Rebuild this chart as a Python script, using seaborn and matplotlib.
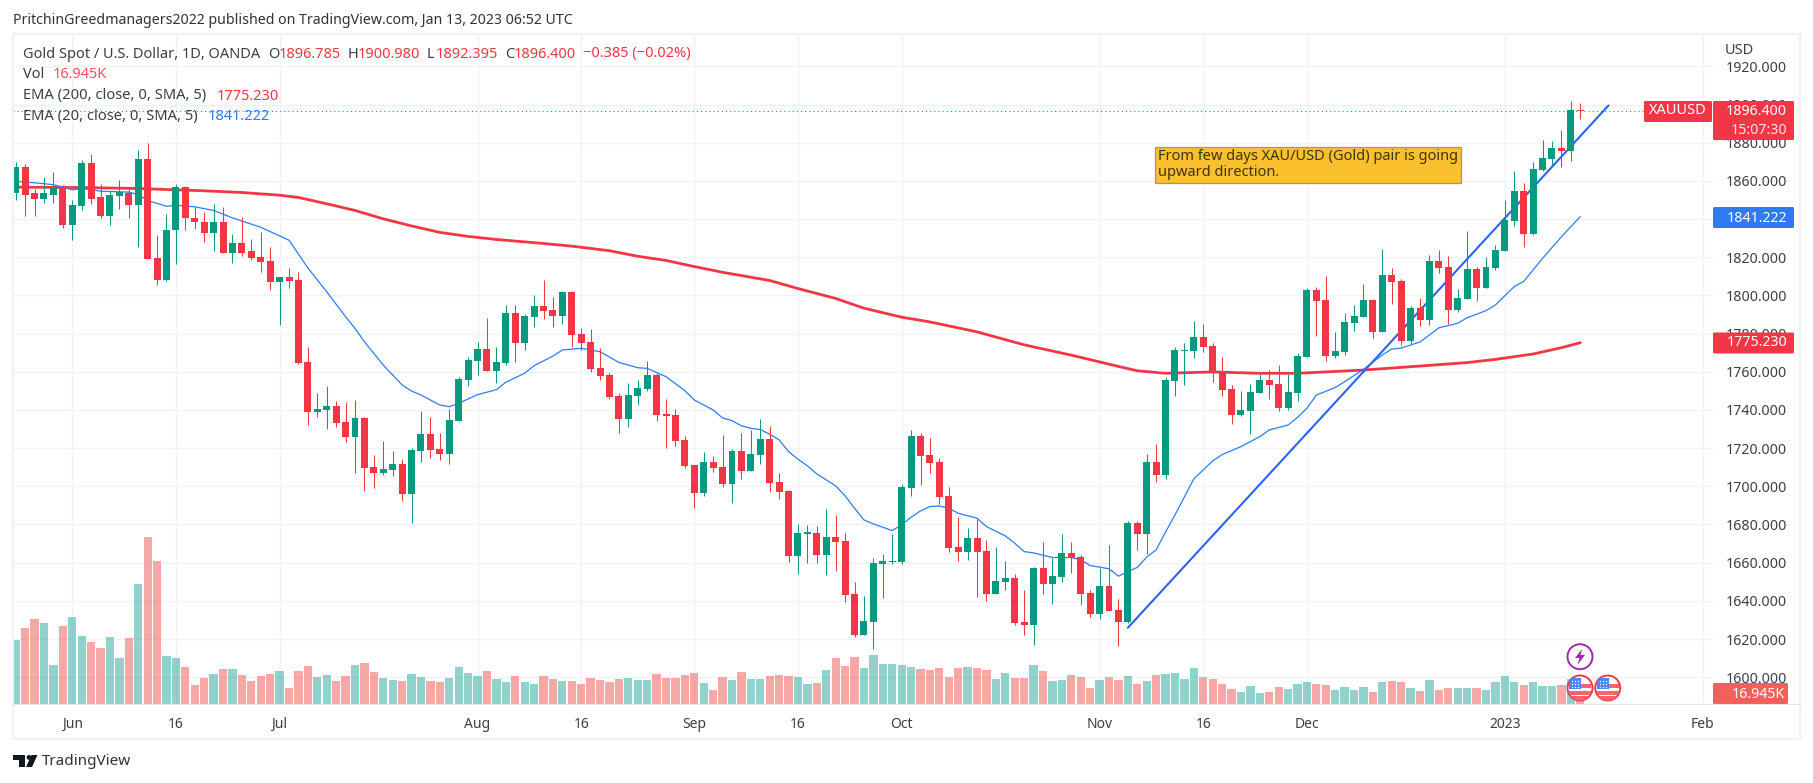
import numpy as np
import pandas as pd
import matplotlib.pyplot as plt
from matplotlib.patches import Rectangle, Circle, Polygon, FancyBboxPatch
import seaborn as sns

# OHLC, one value per daily candle
opens = [1853.5,1867,1853.4,1850.7,1852.8,1856.9,1837.1,1846.7,1869.1,1851.3,
         1841.8,1852.3,1853.7,1847.6,1871.7,1819.8,1808.3,1834,1857,1840.8,
         1838.7,1832.9,1838.2,1822.4,1827.7,1823,1820.3,1818.2,1807,1809.6,
         1808,1765.1,1738.9,1740,1742.1,1733.7,1725.8,1735.8,1710.1,1707,
         1708.6,1711.7,1696,1718.5,1727.4,1719.6,1716.9,1734.2,1755.7,1765.6,
         1771.9,1760.4,1764.6,1790.8,1775,1788.7,1794.4,1792.3,1789.2,1801.7,
         1779.8,1775.6,1762,1758.3,1747.3,1735.3,1747.3,1751,1758.3,1737.9,
         1737.4,1724.3,1711.2,1696.5,1712.8,1710.2,1701.3,1718.5,1708.1,1716.4,
         1724.8,1702.3,1697.6,1663.6,1675.1,1675.6,1664.1,1673.5,1671.4,1643.7,
         1622.2,1629,1659.4,1660.4,1660.4,1699.2,1726.4,1716.4,1712.8,1695,
         1668.3,1665.7,1673,1666.2,1643.7,1650,1652.1,1629,1627.4,1657.3,
         1648.9,1652.6,1665.1,1663,1644.2,1633.2,1647.9,1635.3,1629,1680.8,
         1675.1,1712.8,1706,1755.2,1770.9,1770.9,1778.2,1773.5,1760.4,1751,
         1737.4,1739.5,1748.9,1755.7,1753.6,1741,1748.9,1767.7,1802.8,1797.6,
         1768.3,1770.3,1785.5,1788.7,1797.6,1780.8,1810.7,1807.5,1776.1,1793.4,
         1787.1,1818,1814.8,1792.3,1798.1,1813.8,1803.9,1814.3,1823.2,1838.9,
         1854.6,1832.1,1865.6,1871.4,1877.1,1875.6,1896.785]
highs = [1870,1868.6,1855.5,1862.1,1864.4,1857.6,1850.2,1870.7,1874.3,1858.1,
         1854.6,1860.2,1855.5,1876.4,1879.6,1831.9,1842.4,1858.1,1857.5,1846.5,
         1843.9,1848.1,1846.5,1832.4,1841.3,1829.8,1833.4,1825.6,1809.9,1814.3,
         1812.2,1773,1748.9,1752.5,1744.7,1744.2,1745.2,1736.3,1716.4,1723.7,
         1718.5,1714.3,1720.1,1739.4,1736.3,1727.9,1740.5,1757.2,1767.7,1775.6,
         1788.1,1773,1794.9,1794.9,1790.2,1800.2,1808,1799.1,1802.3,1802.3,
         1782.9,1782.4,1772.4,1759.3,1748.9,1754.1,1755.7,1765.6,1759.3,1745.7,
         1740.5,1726.4,1711.4,1718,1715.9,1726.9,1719.6,1728,1729.5,1735.3,
         1731.6,1707,1698.1,1680.3,1679.8,1679.3,1688.2,1685,1675.6,1650,
         1642.6,1662.5,1664.6,1675.1,1701.3,1729.5,1728,1725.3,1714.9,1699.7,
         1684,1678.2,1682.9,1672,1668.3,1661,1654.1,1645.8,1657.8,1670.9,
         1662.5,1675.1,1670.9,1664,1645.8,1657.3,1669.3,1641.1,1681.9,1681.9,
         1717,1722.2,1757.3,1773,1775.1,1786.6,1785,1775.1,1767.7,1753.1,
         1750,1753.6,1758.8,1760.9,1763.5,1758.8,1769.8,1803.9,1804.4,1810.1,
         1780.8,1790.8,1795,1805.9,1798,1824.3,1814.3,1808.6,1794.4,1798.6,
         1821.1,1823.7,1820.6,1803.3,1833.7,1814.8,1820.1,1826.4,1849.9,1865.1,
         1858.8,1869.8,1881.3,1880.8,1886.6,1901.7,1900.98]
lows = [1850,1841.8,1841.5,1848.3,1848.3,1835.5,1828.9,1844.6,1847.8,1840.8,
        1837.1,1845,1840.3,1825.6,1819,1805.7,1807.8,1816.2,1834,1835,
        1828.2,1823.5,1822.2,1817.2,1820.9,1818.8,1812.5,1803,1784.5,1803.8,
        1764.1,1732.1,1736.3,1730,1731.1,1723.2,1707,1697.6,1699.1,1705.9,
        1705.4,1692.3,1680.8,1712.7,1714.8,1713.8,1711.7,1734,1752.5,1758.3,
        1760.2,1754.1,1763.5,1765.1,1771.4,1783.4,1787.6,1783.4,1785,1773,
        1771.4,1759.9,1755.7,1745.7,1727.9,1731.1,1742.6,1749.9,1734.2,1720.1,
        1721.1,1709.6,1688.7,1695,1707.5,1699.7,1691.3,1703.9,1708,1711.7,
        1697.1,1693.4,1660.4,1654.1,1659.9,1659.9,1653.6,1655.7,1639.5,1621.2,
        1622,1614.9,1641.6,1659.4,1659.4,1695,1700.7,1707,1690.8,1665.7,
        1661,1661.5,1642.1,1640,1643.5,1645.8,1627.4,1622.2,1617,1643.7,
        1638.4,1650,1654.7,1637.9,1631.6,1630.6,1634.6,1616.5,1628.5,1666.7,
        1664.6,1702.3,1703.9,1747.3,1753.1,1767.2,1770.3,1754.6,1747.3,1732.7,
        1736.8,1727.4,1748.7,1745.7,1739.5,1740,1744.7,1767.5,1778.7,1765.6,
        1767.2,1768.8,1781.3,1788.5,1777.7,1780.6,1795.5,1774,1774.5,1784,
        1784.5,1811.7,1785,1791.3,1798,1797,1803.7,1813.3,1823,1836.3,
        1825.3,1831.6,1865.4,1868.2,1867.2,1870.3,1892.395]
closes = [1867,1852.8,1850.7,1853.4,1856.2,1837.1,1847.1,1869.1,1850.7,1841.8,
          1852.8,1854.1,1847.6,1871.7,1819.3,1808.3,1834.5,1857,1840.3,1838.2,
          1832.9,1838.2,1822.4,1827.7,1822.4,1819.8,1817.7,1807.2,1809.6,1807.5,
          1764.6,1738.9,1740.5,1742.1,1733.2,1725.8,1735.8,1709.6,1707,1709.1,
          1711.7,1696,1719,1727.4,1719,1716.9,1734.7,1756.2,1766.1,1771.9,
          1760.4,1765.1,1790.8,1775,1789.2,1794.4,1791.8,1789.2,1801.7,1779.2,
          1775,1761.4,1757.8,1746.8,1735.3,1747.8,1751.5,1758.3,1737.4,1736.8,
          1723.7,1710.7,1696.5,1712.8,1709.6,1701.3,1718.5,1708.1,1717,1724.8,
          1701.8,1697.1,1663.6,1675.6,1675.6,1664.1,1673.5,1670.9,1643.2,1622.2,
          1629.5,1659.9,1661,1661,1699.7,1726.4,1715.9,1712.3,1694.5,1667.8,
          1665.7,1673,1665.7,1643.7,1650.5,1652.1,1628.5,1627.4,1657.3,1648.9,
          1653.1,1665.1,1662.5,1643.7,1633.2,1647.9,1634.8,1629,1680.8,1675.1,
          1712.8,1706,1755.7,1771.4,1771.4,1778.2,1773,1759.9,1750.5,1737.4,
          1740,1749.4,1755.7,1753.1,1741,1749.4,1768.3,1802.8,1797,1768.3,
          1770.9,1786,1789.2,1797.6,1780.8,1810.7,1807,1776.1,1793.4,1787.1,
          1818,1814.3,1792.3,1798.6,1813.8,1803.9,1814.8,1823.7,1839.4,1854.6,
          1832.1,1866.1,1871.9,1877.1,1875.6,1897,1896.4]

# Volume in thousands (only the last value is printed, the rest are bar heights)
volume = [256,304,340,324,156,312,348,272,248,224,268,184,264,480,668,572,192,184,148,76,
          104,120,140,140,116,92,112,120,132,64,132,152,108,116,92,112,156,164,128,104,
          96,92,120,108,92,88,104,148,124,112,132,100,88,112,88,80,112,100,92,92,
          80,104,96,
          88,100,104,96,96,120,104,104,116,124,84,56,108,96,128,100,100,112,116,112,
          108,80,84,136,184,152,188,144,196,160,160,156,148,140,136,144,108,144,148,144,
          136,100,124,104,104,156,132,92,96,116,108,64,96,108,96,112,80,92,116,120,
          124,100,144,
          108,100,80,60,48,72,44,48,68,60,80,88,80,76,56,68,56,68,48,88,
          92,88,64,52,96,56,64,64,64,64,56,88,112,88,76,88,72,72,76,100,
          16.945]

# EMA lines, sampled at the candles where the line bends
ema200_idx = [0,7,13,17,20,24,28,30,33,36,39,42,45,48,51,56,59,63,66,69,72,75,80,83,87,90,94,97,
              102,107,112,117,119,122,127,132,136,143,149,154,157,161,164,166]
ema200_val = [1856.7,1856.5,1856,1855.3,1854.8,1853.9,1852.5,1851.3,1848,1844.5,1840.1,1836.4,1833,
              1830.9,1829.3,1827.2,1825.8,1823.4,1820.5,1818.3,1815.1,1812.1,1807.8,1803.6,1798.4,
              1793.3,1788.6,1786.1,1780.9,1774.1,1768.7,1762.8,1760.5,1759.2,1759.9,1759.2,1759.2,
              1760.9,1763,1764.8,1766.5,1769.3,1772.6,1775.23]
ema20_idx = [0,2,4,6,7,9,12,13,14,16,17,19,21,23,26,29,31,33,35,36,37,39,41,42,43,45,46,47,49,51,
             52,54,55,57,58,60,62,64,66,67,69,71,72,74,75,76,77,78,79,80,81,82,83,84,85,87,88,89,
             90,91,93,94,95,96,97,98,99,100,102,103,105,106,107,108,110,112,113,114,116,117,118,
             119,120,121,122,123,125,127,128,130,132,133,135,136,137,138,140,141,143,145,146,147,
             149,151,153,154,156,157,159,160,162,164,166]
ema20_val = [1859.7,1859,1858,1855.3,1856,1854.6,1854.1,1852.8,1849.7,1846.7,1847.2,1846.4,1844.5,
             1840.6,1835.7,1828.9,1814.4,1801.9,1788.8,1782.7,1775.7,1763.5,1753.1,1749.9,1747.8,
             1742.6,1741.7,1743.5,1748,1750.6,1754.5,1759.2,1763.2,1768.2,1771.4,1772.3,1770.5,
             1764.9,1762.1,1761.8,1757.4,1750.1,1745.2,1740,1735.8,1734.4,1731.7,1730.4,1729.7,
             1727.3,1724.3,1718.2,1714.2,1710.7,1706.5,1700.2,1695,1688.5,1682.4,1680.3,1676.8,
             1679.8,1683.8,1687.1,1689.4,1689.7,1688.5,1685.9,1683.3,1678.9,1674,1670.2,1665.8,
             1665.1,1662.7,1662.7,1661.5,1658.5,1656.8,1652.9,1655.4,1657.5,1662.9,1666.7,1676,
             1685,1703.9,1713.3,1716.6,1720.8,1726,1729.5,1732.1,1736.1,1740.9,1747.8,1751.7,
             1754.8,1761.3,1768.8,1771.9,1772.4,1775.6,1783,1785.4,1788.3,1792,1795,1804.6,
             1807.3,1819.4,1830.7,1841.222]

# Hand drawn trend line
trend_idx = [118, 169]
trend_val = [1625.9, 1899.5]

# Axis labels
price_ticks = list(range(1600, 1940, 20))
date_ticks = [6, 17, 28, 49, 60, 72, 83, 94, 115, 126, 137, 158, 179]
date_labels = ['Jun', '16', 'Jul', 'Aug', '16', 'Sep', '16', 'Oct', 'Nov', '16', 'Dec', '2023', 'Feb']

W, H = 1813, 783
GREEN, RED, BLUE = '#089981', '#F23645', '#2962FF'
GRID = '#F1F2F6'
FRAME = '#F0F1F7'
TXT = '#3a3e48'

sns.set_theme(style='white')
plt.rcParams['font.family'] = ['Noto Sans', 'DejaVu Sans']
plt.rcParams['font.size'] = 10

df = pd.DataFrame({'i': np.arange(len(opens)), 'o': opens, 'h': highs, 'l': lows, 'c': closes, 'vol': volume})
df['dir'] = np.where(df['c'] >= df['o'], 'up', 'down')
candle_colors = df['dir'].map({'up': GREEN, 'down': RED})

fig = plt.figure(figsize=(W / 100, H / 100), dpi=100)
ax = fig.add_axes([13 / W, 1 - 704 / H, 1700 / W, 671 / H])

# Volume sits on its own hidden scale at the bottom of the pane (1 px = 4K)
ax_vol = ax.twinx()
sns.barplot(data=df, x='i', y='vol', hue='dir', hue_order=['up', 'down'],
            palette={'up': '#26a69a', 'down': '#ef5350'}, native_scale=True, dodge=False,
            width=0.88, saturation=1, alpha=0.5, linewidth=0, legend=False, ax=ax_vol)
ax_vol.set_ylim(0, 671 * 4)
ax_vol.yaxis.set_visible(False)
for s in ax_vol.spines.values():
    s.set_visible(False)

# Moving averages and the trend line go under the candles
sns.lineplot(x=ema200_idx, y=ema200_val, color=RED, lw=2.0, ax=ax, zorder=2, estimator=None, sort=False)
sns.lineplot(x=ema20_idx, y=ema20_val, color='#2E7BF6', lw=0.9, ax=ax, zorder=2, estimator=None, sort=False)
sns.lineplot(x=trend_idx, y=trend_val, color=BLUE, lw=1.5, ax=ax, zorder=2, estimator=None, sort=False)

# Candles
ax.vlines(df['i'], df['l'], df['h'], colors=candle_colors, lw=0.75, zorder=4)
body = np.maximum((df['c'] - df['o']).abs(), 0.7)
ax.bar(df['i'], body, bottom=df[['o', 'c']].min(axis=1), width=0.74, color=candle_colors, linewidth=0, zorder=5)

ax.axhline(closes[-1], color=RED, lw=0.75, ls=(0, (1, 3)), zorder=3)

ax.set_xlim((13 - 15.7) / 9.425, (1713 - 15.7) / 9.425)
ax.set_ylim(1900 - (704 - 104.5) / 1.909, 1900 + 71.5 / 1.909)
ax.set_xticks(date_ticks)
ax.set_xticklabels(date_labels)
ax.set_yticks(price_ticks)
ax.set_yticklabels([f'{p:.3f}' for p in price_ticks])
ax.yaxis.tick_right()
ax.tick_params(axis='y', length=0, pad=9.5, labelsize=10.2, labelcolor=TXT)
ax.tick_params(axis='x', length=0, pad=9, labelsize=10, labelcolor=TXT)
ax.xaxis.get_ticklabels()[date_labels.index('2023')].set_fontweight('bold')
ax.set_axisbelow(True)
ax.grid(True, color=GRID, lw=1)
ax.set_xlabel('')
ax.set_ylabel('')
for s in ax.spines.values():
    s.set_visible(False)

# Everything around the plot is laid out in figure pixels on a transparent overlay
ov = fig.add_axes([0, 0, 1, 1], zorder=10)
ov.set_xlim(0, W)
ov.set_ylim(H, 0)
ov.axis('off')
ov.patch.set_alpha(0)

# Frame, time axis line, covers for the clipped labels
ov.add_patch(Rectangle((1713, 35), 85, 26, fc='white', ec='none'))
ov.add_patch(Rectangle((1713, 705), 85, 32, fc='white', ec='none'))
ov.add_patch(Rectangle((13, 33.5), 1787, 705.5, fc='none', ec=FRAME, lw=1.6))
ov.plot([13, 1800], [704, 704], color='#E0E3EB', lw=0.8)


def label(x, y, s, color=TXT, ha='left', size=10.5, **kw):
    ov.text(x, y, s, color=color, ha=ha, va='center', fontsize=size, **kw)


def tag(x0, x1, y0, y1, color):
    ov.add_patch(FancyBboxPatch((x0 + 1, y0 + 1), x1 - x0 - 2, y1 - y0 - 2,
                                boxstyle='round,pad=1,rounding_size=1.5', fc=color, ec='none'))


# Header and legend rows
label(13, 20, 'PritchinGreedmanagers2022 published on TradingView.com, Jan 13, 2023 06:52 UTC',
      color='#2f3238', size=10.2)
label(23.3, 54, 'Gold Spot / U.S. Dollar, 1D, OANDA')
for x, s in [(268, 'O'), (347.7, 'H'), (427, 'L'), (505, 'C')]:
    label(x, 54, s)
for x, s in [(278.7, '1896.785'), (358, '1900.980'), (436, '1892.395'), (514, '1896.400'), (583, '−0.385 (−0.02%)')]:
    label(x, 54, s, color=RED)
label(23.3, 75, 'Vol')
label(52.7, 75, '16.945K', color='#F7525F')
label(23.3, 96, 'EMA (200, close, 0, SMA, 5)', size=10.6)
label(216.7, 96, '1775.230', color=RED)
label(23.3, 116.7, 'EMA (20, close, 0, SMA, 5)', size=10.6)
label(208, 116.7, '1841.222', color='#2E7BF6')

# Price scale tags
label(1725, 50.7, 'USD')
tag(1644, 1712, 101, 122, RED)
label(1678, 111, 'XAUUSD', color='white', ha='center')
tag(1713, 1794, 101, 140, RED)
label(1787, 111.7, '1896.400', color='white', ha='right', size=10.2)
label(1787, 130, '15:07:30', color='#FDE3E5', ha='right', size=10.2)
tag(1713, 1794, 207, 228, '#3179F5')
label(1787, 218, '1841.222', color='white', ha='right', size=10.2)
tag(1713, 1794, 332.5, 353.5, RED)
label(1787, 343, '1775.230', color='white', ha='right', size=10.2)
tag(1713, 1788, 683, 704, '#F2605A')
label(1785, 694, '16.945K', color='white', ha='right', size=10.2)

# Text note
ov.add_patch(Rectangle((1154.5, 146.5), 306, 36, fc='#FBC02D', ec='#8D97A8', lw=0.9))
label(1158, 157, 'From few days XAU/USD (Gold) pair is going', color='#3d3514', size=10.5)
label(1158, 172, 'upward direction.', color='#3d3514', size=10.5)

# Event icons on the time axis
for cx, cy in [(1580, 688), (1607.7, 688)]:
    ring = Circle((cx, cy), 12.5, fc='white', ec=RED, lw=1.4, zorder=3)
    ov.add_patch(ring)
    for y0, h in [(cy - 4, 4), (cy + 3, 4), (cy + 8, 5)]:
        ov.add_patch(Rectangle((cx - 11, y0), 22, h, fc='#F9636E', ec='none', zorder=3.1, clip_path=ring))
    ov.add_patch(Rectangle((cx - 11, cy - 10), 12, 11, fc='#4A86F7', ec='none', zorder=3.2, clip_path=ring))
    ov.scatter([cx - 8 + 3 * a for a in range(3) for b in range(3)],
               [cy - 7 + 3 * b for a in range(3) for b in range(3)], s=1, color='white', lw=0, zorder=3.3)

ov.add_patch(Circle((1580, 656.7), 12.5, fc='white', ec='#9C27B0', lw=1.4, zorder=3))
ov.add_patch(Polygon([(1582, 649), (1575, 658), (1579.5, 658), (1577.5, 665), (1585, 655), (1580.5, 655)],
                     fc='#9C27B0', ec='none', zorder=3.1))

# TradingView mark and wordmark
ov.add_patch(Polygon([(13, 755), (25, 755), (25, 767), (19, 767), (19, 760), (13, 760)], fc='#131722', ec='none'))
ov.add_patch(Circle((29, 757.4), 2.4, fc='#131722', ec='none'))
ov.add_patch(Polygon([(31.5, 755), (37.5, 755), (32, 767), (26, 767)], fc='#131722', ec='none'))
label(42, 761.5, 'TradingView', color='#2f3238', size=11)

fig.savefig('out.png', dpi=100, facecolor='white')
